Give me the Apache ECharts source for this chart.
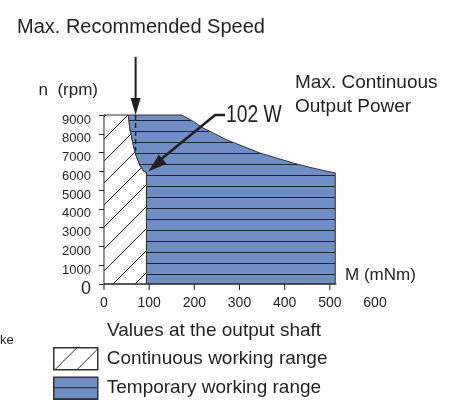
<!DOCTYPE html>
<html>
<head>
<meta charset="utf-8">
<script src="https://cdn.jsdelivr.net/npm/echarts@6/dist/echarts.min.js"></script>
<style>
  html, body { margin: 0; padding: 0; background: #fff; }
  #main { width: 449px; height: 407px; }
</style>
</head>
<body>
<div id="main"></div>
<script>
// torque M (mNm) / speed n (rpm)
const rangeBoundary = [[54, 9000], [57, 8300], [63, 7600], [70, 6900], [80, 6300], [88, 6000], [94, 5950], [94, 0]]
const peakLimit = [[54, 9000], [172, 9000], [198, 8660], [220, 8300], [242, 8040], [271, 7680], [308, 7330],
    [345, 6980], [382, 6710], [419, 6440], [456, 6210], [493, 6010], [512, 5920], [512, 0]]
const speedArrow = [[70, 12100], [70, 9000]]
const speedLimitLine = [[70, 9000], [70, 7100]]
const powerArrow = [[268, 9000], [246, 9000], [98, 5990]]
const xTicks = [0, 100, 200, 300, 400, 500]
const xAxisEnd = 515

const ink = '#231f20'
const blue = '#6f8fc4'
const font = '"Liberation Sans", Arial, sans-serif'

// fill patterns
const hatchCanvas = document.createElement('canvas')
hatchCanvas.width = 22
hatchCanvas.height = 22
let ctx = hatchCanvas.getContext('2d')
ctx.fillStyle = '#fff'
ctx.fillRect(0, 0, 22, 22)
ctx.strokeStyle = '#222'
ctx.lineWidth = 1
;[1, 23, 45].forEach(c => {
    ctx.beginPath()
    ctx.moveTo(-5, c + 5)
    ctx.lineTo(c + 5, -5)
    ctx.stroke()
})

const stripeCanvas = document.createElement('canvas')
stripeCanvas.width = 8
stripeCanvas.height = 11
ctx = stripeCanvas.getContext('2d')
ctx.fillStyle = blue
ctx.fillRect(0, 0, 8, 11)
ctx.fillStyle = '#1e2430'
ctx.fillRect(0, 10, 8, 1)

const hatchFill = { image: hatchCanvas, repeat: 'repeat' }
const stripeFill = { image: stripeCanvas, repeat: 'repeat' }

const hatchPoly = [[0, 0], [0, 9000]].concat(rangeBoundary)
const stripePoly = peakLimit.concat(rangeBoundary.slice().reverse().slice(0, -1))

const polygonSeries = (name, pts, fill) => ({
    name: name,
    type: 'custom',
    data: pts,
    itemStyle: { color: fill },
    renderItem: (params, api) => {
        if (params.dataIndex !== 0) return
        return {
            type: 'polygon',
            shape: { points: pts.map(p => api.coord(p)) },
            style: { fill: fill, stroke: '#333', lineWidth: 1 }
        }
    }
})

const arrowHead = (tip, from, len, half) => {
    let dx = tip[0] - from[0], dy = tip[1] - from[1]
    let d = Math.sqrt(dx * dx + dy * dy)
    let ux = dx / d, uy = dy / d
    let bx = tip[0] - ux * len, by = tip[1] - uy * len
    return {
        type: 'polygon',
        shape: { points: [tip, [bx - uy * half, by + ux * half], [bx + uy * half, by - ux * half]] },
        style: { fill: ink }
    }
}

let Charts = echarts.init(document.getElementById('main'))
Charts.setOption({
    animation: false,
    title: {
        text: 'Max. Recommended Speed',
        left: 12,
        top: 12,
        textStyle: { fontFamily: font, fontSize: 20, fontWeight: 'normal', color: ink }
    },
    legend: {
        orient: 'vertical',
        left: 48,
        top: 342,
        icon: 'rect',
        itemWidth: 44,
        itemHeight: 22,
        itemGap: 6,
        selectedMode: false,
        itemStyle: { borderColor: '#333', borderWidth: 1.5 },
        textStyle: { fontFamily: font, fontSize: 19, color: ink, padding: [3, 0, 0, 4] },
        data: ['Continuous working range', 'Temporary working range']
    },
    grid: {
        left: 104,
        right: 74,
        top: 115,
        bottom: 123
    },
    xAxis: {
        type: 'value',
        min: 0,
        max: 600,
        interval: 100,
        name: 'M (mNm)',
        nameLocation: 'end',
        nameGap: -30,
        nameTextStyle: { fontFamily: font, fontSize: 17, color: ink, align: 'left', verticalAlign: 'bottom' },
        axisLine: { show: false },
        axisTick: { show: false },
        splitLine: { show: false },
        axisLabel: { margin: 12, fontFamily: font, fontSize: 14, color: ink }
    },
    yAxis: {
        type: 'value',
        min: 0,
        max: 9000,
        interval: 1000,
        name: 'n  (rpm)',
        nameLocation: 'end',
        nameGap: 16,
        nameTextStyle: { fontFamily: font, fontSize: 17, color: ink, align: 'right', padding: [0, 6, 0, 0] },
        axisLine: { show: true, lineStyle: { color: ink, width: 1.2 } },
        axisTick: { show: true, length: 5, lineStyle: { color: ink } },
        splitLine: { show: false },
        axisLabel: {
            margin: 13,
            fontFamily: font,
            fontSize: 13,
            color: ink,
            padding: [10, 0, 0, 0],
            formatter: v => v === 0 ? '{big|0}' : String(v),
            rich: { big: { fontFamily: font, fontSize: 18, color: ink } }
        }
    },
    graphic: [
        { type: 'text', style: { x: 295, y: 83, text: 'Max. Continuous', font: '19px ' + font, fill: ink, verticalAlign: 'middle' } },
        { type: 'text', style: { x: 295, y: 107, text: 'Output Power', font: '19px ' + font, fill: ink, verticalAlign: 'middle' } },
        { type: 'text', x: 226, y: 116, scaleX: 0.84, style: { x: 0, y: 0, text: '102 W', font: '23px ' + font, fill: ink, verticalAlign: 'middle' } },
        { type: 'text', style: { x: 107, y: 331, text: 'Values at the output shaft', font: '19px ' + font, fill: ink, verticalAlign: 'middle' } },
        { type: 'text', style: { x: 0, y: 340, text: 'ke', font: '13px ' + font, fill: ink, verticalAlign: 'middle' } }
    ],
    series: [
        polygonSeries('Continuous working range', hatchPoly, hatchFill),
        polygonSeries('Temporary working range', stripePoly, stripeFill),
        {
            name: 'annotations',
            type: 'custom',
            data: [0],
            silent: true,
            renderItem: (params, api) => {
                let axis0 = api.coord([0, 0]), axis1 = api.coord([xAxisEnd, 0])
                let sa = speedArrow.map(p => api.coord(p))
                let sl = speedLimitLine.map(p => api.coord(p))
                let pa = powerArrow.map(p => api.coord(p))
                let children = [
                    { type: 'line', shape: { x1: axis0[0], y1: axis0[1], x2: axis1[0], y2: axis1[1] }, style: { stroke: ink, lineWidth: 1.2 } }
                ]
                xTicks.forEach(t => {
                    let c = api.coord([t, 0])
                    children.push({ type: 'line', shape: { x1: c[0], y1: c[1], x2: c[0], y2: c[1] + 6 }, style: { stroke: ink, lineWidth: 1 } })
                })
                children.push(
                    { type: 'line', shape: { x1: sl[0][0], y1: sl[0][1], x2: sl[1][0], y2: sl[1][1] }, style: { stroke: ink, lineWidth: 1.5, lineDash: [5, 3] } },
                    { type: 'line', shape: { x1: sa[0][0], y1: sa[0][1], x2: sa[1][0], y2: sa[1][1] - 14 }, style: { stroke: ink, lineWidth: 2 } },
                    arrowHead(sa[1], sa[0], 17, 5),
                    { type: 'polyline', shape: { points: [pa[0], pa[1], [pa[2][0] + 10, pa[2][1] - 10]] }, style: { stroke: ink, lineWidth: 2.6, fill: null } },
                    arrowHead(pa[2], pa[1], 19, 6)
                )
                return { type: 'group', children: children }
            }
        }
    ]
})
</script>
</body>
</html>
